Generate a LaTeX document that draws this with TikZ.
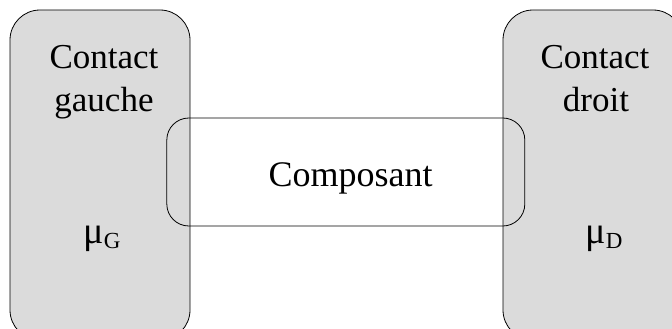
\documentclass[tikz,border=0pt]{standalone}
\usepackage{fontspec}
\setmainfont{Liberation Serif}
\begin{document}
\begin{tikzpicture}[x=1pt,y=-1pt,
  contactbox/.style={draw=black, line width=0.8pt, fill=black!14, rounded corners=30pt,
    minimum width=180pt, minimum height=330pt, inner sep=0pt},
  compbox/.style={draw=black, line width=0.8pt, rounded corners=22pt,
    minimum width=358pt, minimum height=108pt, inner sep=0pt},
  bigtxt/.style={inner sep=0pt, anchor=base, font=\fontsize{35}{42}\selectfont, align=center},
  mutxt/.style={inner sep=0pt, anchor=base}
]
\useasboundingbox (0,0) rectangle (672,329);
\clip (0,0) rectangle (672,329);
\node[contactbox] (left) at (100,175) {};
\node[contactbox] (right) at (593,175) {};
\node[compbox] (comp) at (345.8,172) {};
\node[bigtxt] (cg1) at (104,68.5) {Contact};
\node[bigtxt] (cg2) at (104,111) {gauche};
\node[bigtxt] (cd1) at (595,68.5) {Contact};
\node[bigtxt] (cd2) at (596,111) {droit};
\node[bigtxt, font=\fontsize{36}{42}\selectfont] (compt) at (350.5,186.7) {Composant};
\node[mutxt] (muG) at (102,243) {\fontsize{38}{38}\selectfont μ\fontsize{23}{23}\selectfont\raisebox{-5pt}{G}};
\node[mutxt] (muD) at (604,243) {\fontsize{38}{38}\selectfont μ\fontsize{23}{23}\selectfont\raisebox{-5pt}{D}};
\end{tikzpicture}
\end{document}
